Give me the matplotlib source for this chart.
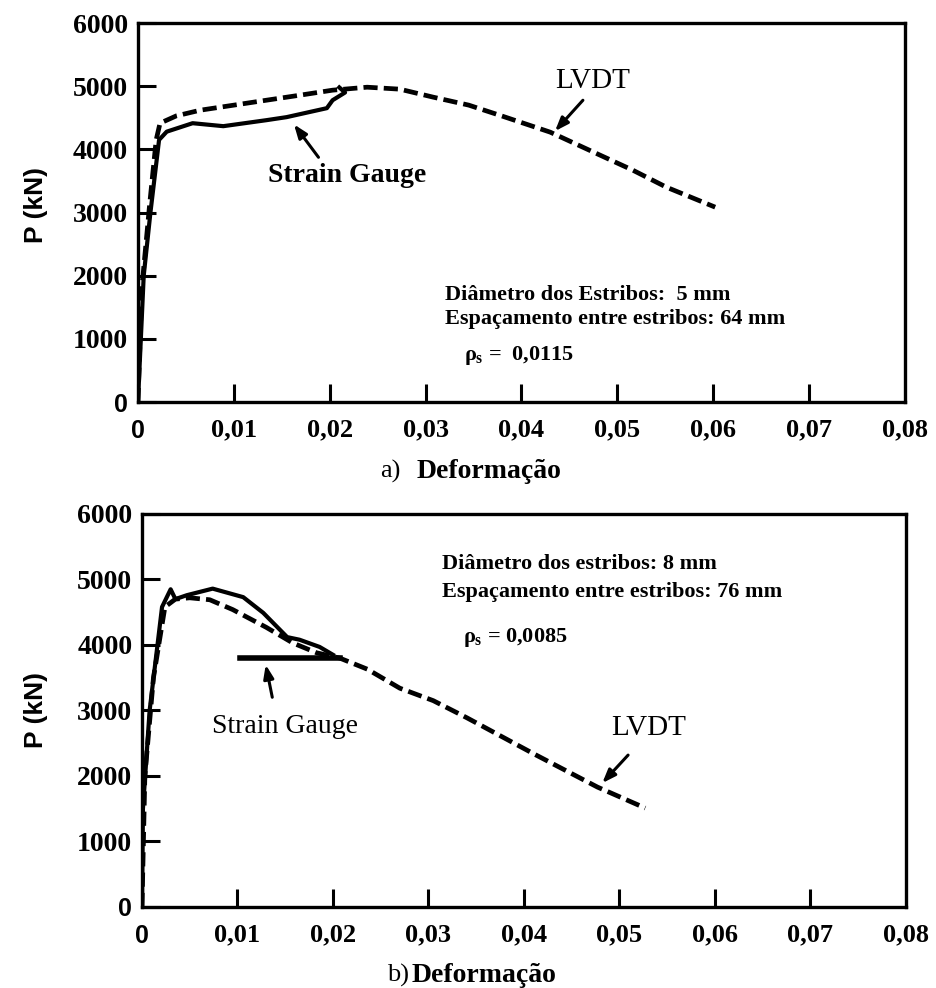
import matplotlib
matplotlib.use("Agg")
import matplotlib.pyplot as plt

plt.rcParams['font.family'] = ['Liberation Serif', 'DejaVu Serif']
plt.rcParams['mathtext.fontset'] = 'custom'
plt.rcParams['mathtext.rm'] = 'Liberation Serif:bold'
plt.rcParams['mathtext.it'] = 'Liberation Serif:bold'
plt.rcParams['mathtext.bf'] = 'Liberation Serif:bold'

# ---- data ----
xticks = [0, 0.01, 0.02, 0.03, 0.04, 0.05, 0.06, 0.07, 0.08]
xticklabels = ['0', '0,01', '0,02', '0,03', '0,04', '0,05', '0,06', '0,07', '0,08']
yticks = [0, 1000, 2000, 3000, 4000, 5000, 6000]
yticklabels = ['0', '1000', '2000', '3000', '4000', '5000', '6000']

# a) stirrups 5 mm / 64 mm
a_lvdt_x = [0, 0.0004, 0.0012, 0.0019, 0.0023, 0.0040, 0.0065, 0.0100, 0.0134,
            0.0170, 0.0203, 0.0239, 0.0273, 0.0308, 0.0345, 0.0377, 0.0430,
            0.0482, 0.0516, 0.0551, 0.0602]
a_lvdt_y = [0, 1800, 3100, 4150, 4414, 4530, 4620, 4700, 4778,
            4860, 4937, 4984, 4953, 4826, 4700, 4541, 4272,
            3908, 3671, 3402, 3085]
a_sg_x = [0, 0.0006, 0.0013, 0.0022, 0.0030, 0.0057, 0.0089, 0.0134, 0.0155,
          0.0197, 0.0203, 0.0216, 0.0210]
a_sg_y = [0, 2000, 3000, 4150, 4280, 4414, 4367, 4462, 4510,
          4652, 4778, 4900, 4980]

# b) stirrups 8 mm / 76 mm
b_lvdt_x = [0, 0.0003, 0.0012, 0.0024, 0.0035, 0.0050, 0.0071, 0.0095, 0.0130,
            0.0158, 0.0183, 0.0207, 0.0236, 0.0270, 0.0305, 0.0340, 0.0410,
            0.0477, 0.0527]
b_lvdt_y = [0, 2000, 3500, 4580, 4700, 4720, 4690, 4540, 4270,
            4030, 3880, 3800, 3630, 3340, 3150, 2890, 2340,
            1830, 1510]
b_sg_x = [0, 0.0001, 0.0008, 0.0021, 0.0030, 0.0035, 0.0047, 0.0074, 0.0106,
          0.0127, 0.0152, 0.0165, 0.0186, 0.0200]
b_sg_y = [0, 1500, 3000, 4580, 4850, 4700, 4760, 4860, 4730,
          4490, 4120, 4080, 3970, 3850]
b_gauge_bar_x = [0.0103, 0.0207]
b_gauge_bar_y = [3800, 3800]

fig = plt.figure(figsize=(9.36, 9.88), dpi=100)
ax1 = fig.add_axes([0.1474, 0.5931, 0.8195, 0.3836])
ax2 = fig.add_axes([0.1517, 0.0820, 0.8162, 0.3978])

dash = (0, (3.0, 1.3))


def style(ax):
    ax.set_xlim(0, 0.08)
    ax.set_ylim(0, 6000)
    for s in ax.spines.values():
        s.set_linewidth(2.4)
    ax.set_xticks(xticks)
    ax.set_yticks(yticks)
    ax.set_xticklabels(xticklabels, fontsize=19, fontweight='bold')
    ax.set_yticklabels(yticklabels, fontsize=20, fontweight='bold')
    ax.tick_params(axis='both', direction='in', length=13, width=2.2)
    ax.tick_params(axis='x', pad=12)
    ax.tick_params(axis='y', pad=7)
    # the zeros are set in a heavy sans face
    for lab in (ax.get_xticklabels()[0], ax.get_yticklabels()[0]):
        lab.set_fontfamily('Liberation Sans')
        lab.set_fontweight('bold')
        lab.set_fontsize(18)
    ax.get_xticklabels()[-1].set_visible(True)
    ax.xaxis.get_major_ticks()[-1].tick1line.set_visible(False)


style(ax1)
style(ax2)

# ---- a) ----
ax1.plot(a_sg_x, a_sg_y, color='black', lw=3.0, solid_joinstyle='round')
ax1.plot(a_lvdt_x, a_lvdt_y, color='black', lw=3.4, linestyle=dash)
arrow = dict(arrowstyle='-|>,head_length=0.8,head_width=0.3', color='black', lw=2.2)
ax1.annotate('', xy=(0.0161, 4430), xytext=(0.0190, 3839), arrowprops=arrow)
ax1.text(0.0218, 3580, 'Strain Gauge', fontsize=20, fontweight='bold',
         ha='center', va='center')
ax1.annotate('', xy=(0.0433, 4256), xytext=(0.0466, 4810), arrowprops=arrow)
ax1.text(0.0474, 5080, 'LVDT', fontsize=21, ha='center', va='center')
ax1.text(0.0320, 1700, 'Diâmetro dos Estribos:  5 mm', fontsize=16,
         fontweight='bold', ha='left', va='center')
ax1.text(0.0320, 1310, 'Espaçamento entre estribos: 64 mm', fontsize=16,
         fontweight='bold', ha='left', va='center')
ax1.text(0.0340, 730, r'$\rho_s$ =  0,0115', fontsize=16,
         fontweight='bold', ha='left', va='center')

# ---- b) ----
ax2.plot(b_sg_x, b_sg_y, color='black', lw=3.0, solid_joinstyle='round')
ax2.plot(b_gauge_bar_x, b_gauge_bar_y, color='black', lw=4.0)
ax2.plot(b_lvdt_x, b_lvdt_y, color='black', lw=3.4, linestyle=dash)
ax2.annotate('', xy=(0.0129, 3740), xytext=(0.0137, 3160), arrowprops=arrow)
ax2.text(0.0150, 2750, 'Strain Gauge', fontsize=20, ha='center', va='center')
ax2.annotate('', xy=(0.0480, 1860), xytext=(0.0511, 2350), arrowprops=arrow)
ax2.text(0.0531, 2740, 'LVDT', fontsize=21, ha='center', va='center')
ax2.text(0.0314, 5240, 'Diâmetro dos estribos: 8 mm', fontsize=16,
         fontweight='bold', ha='left', va='center')
ax2.text(0.0314, 4810, 'Espaçamento entre estribos: 76 mm', fontsize=16,
         fontweight='bold', ha='left', va='center')
ax2.text(0.0336, 4120, r'$\rho_s$ = 0,0085', fontsize=16,
         fontweight='bold', ha='left', va='center')

# ---- axis titles ----
for yc in (205, 710):
    fig.text(36 / 936, 1 - yc / 988, 'P (kN)', rotation=90, fontsize=19,
             fontweight='bold', family='Liberation Sans', ha='center', va='center')
fig.text(380 / 936, 1 - 478 / 988, 'a)', fontsize=19, ha='left', va='baseline')
fig.text(417 / 936, 1 - 478 / 988, 'Deformação', fontsize=20, fontweight='bold',
         ha='left', va='baseline')
fig.text(387 / 936, 1 - 982 / 988, 'b)', fontsize=19, ha='left', va='baseline')
fig.text(412 / 936, 1 - 982 / 988, 'Deformação', fontsize=20, fontweight='bold',
         ha='left', va='baseline')

fig.savefig('out.png', dpi=100, facecolor='white')
